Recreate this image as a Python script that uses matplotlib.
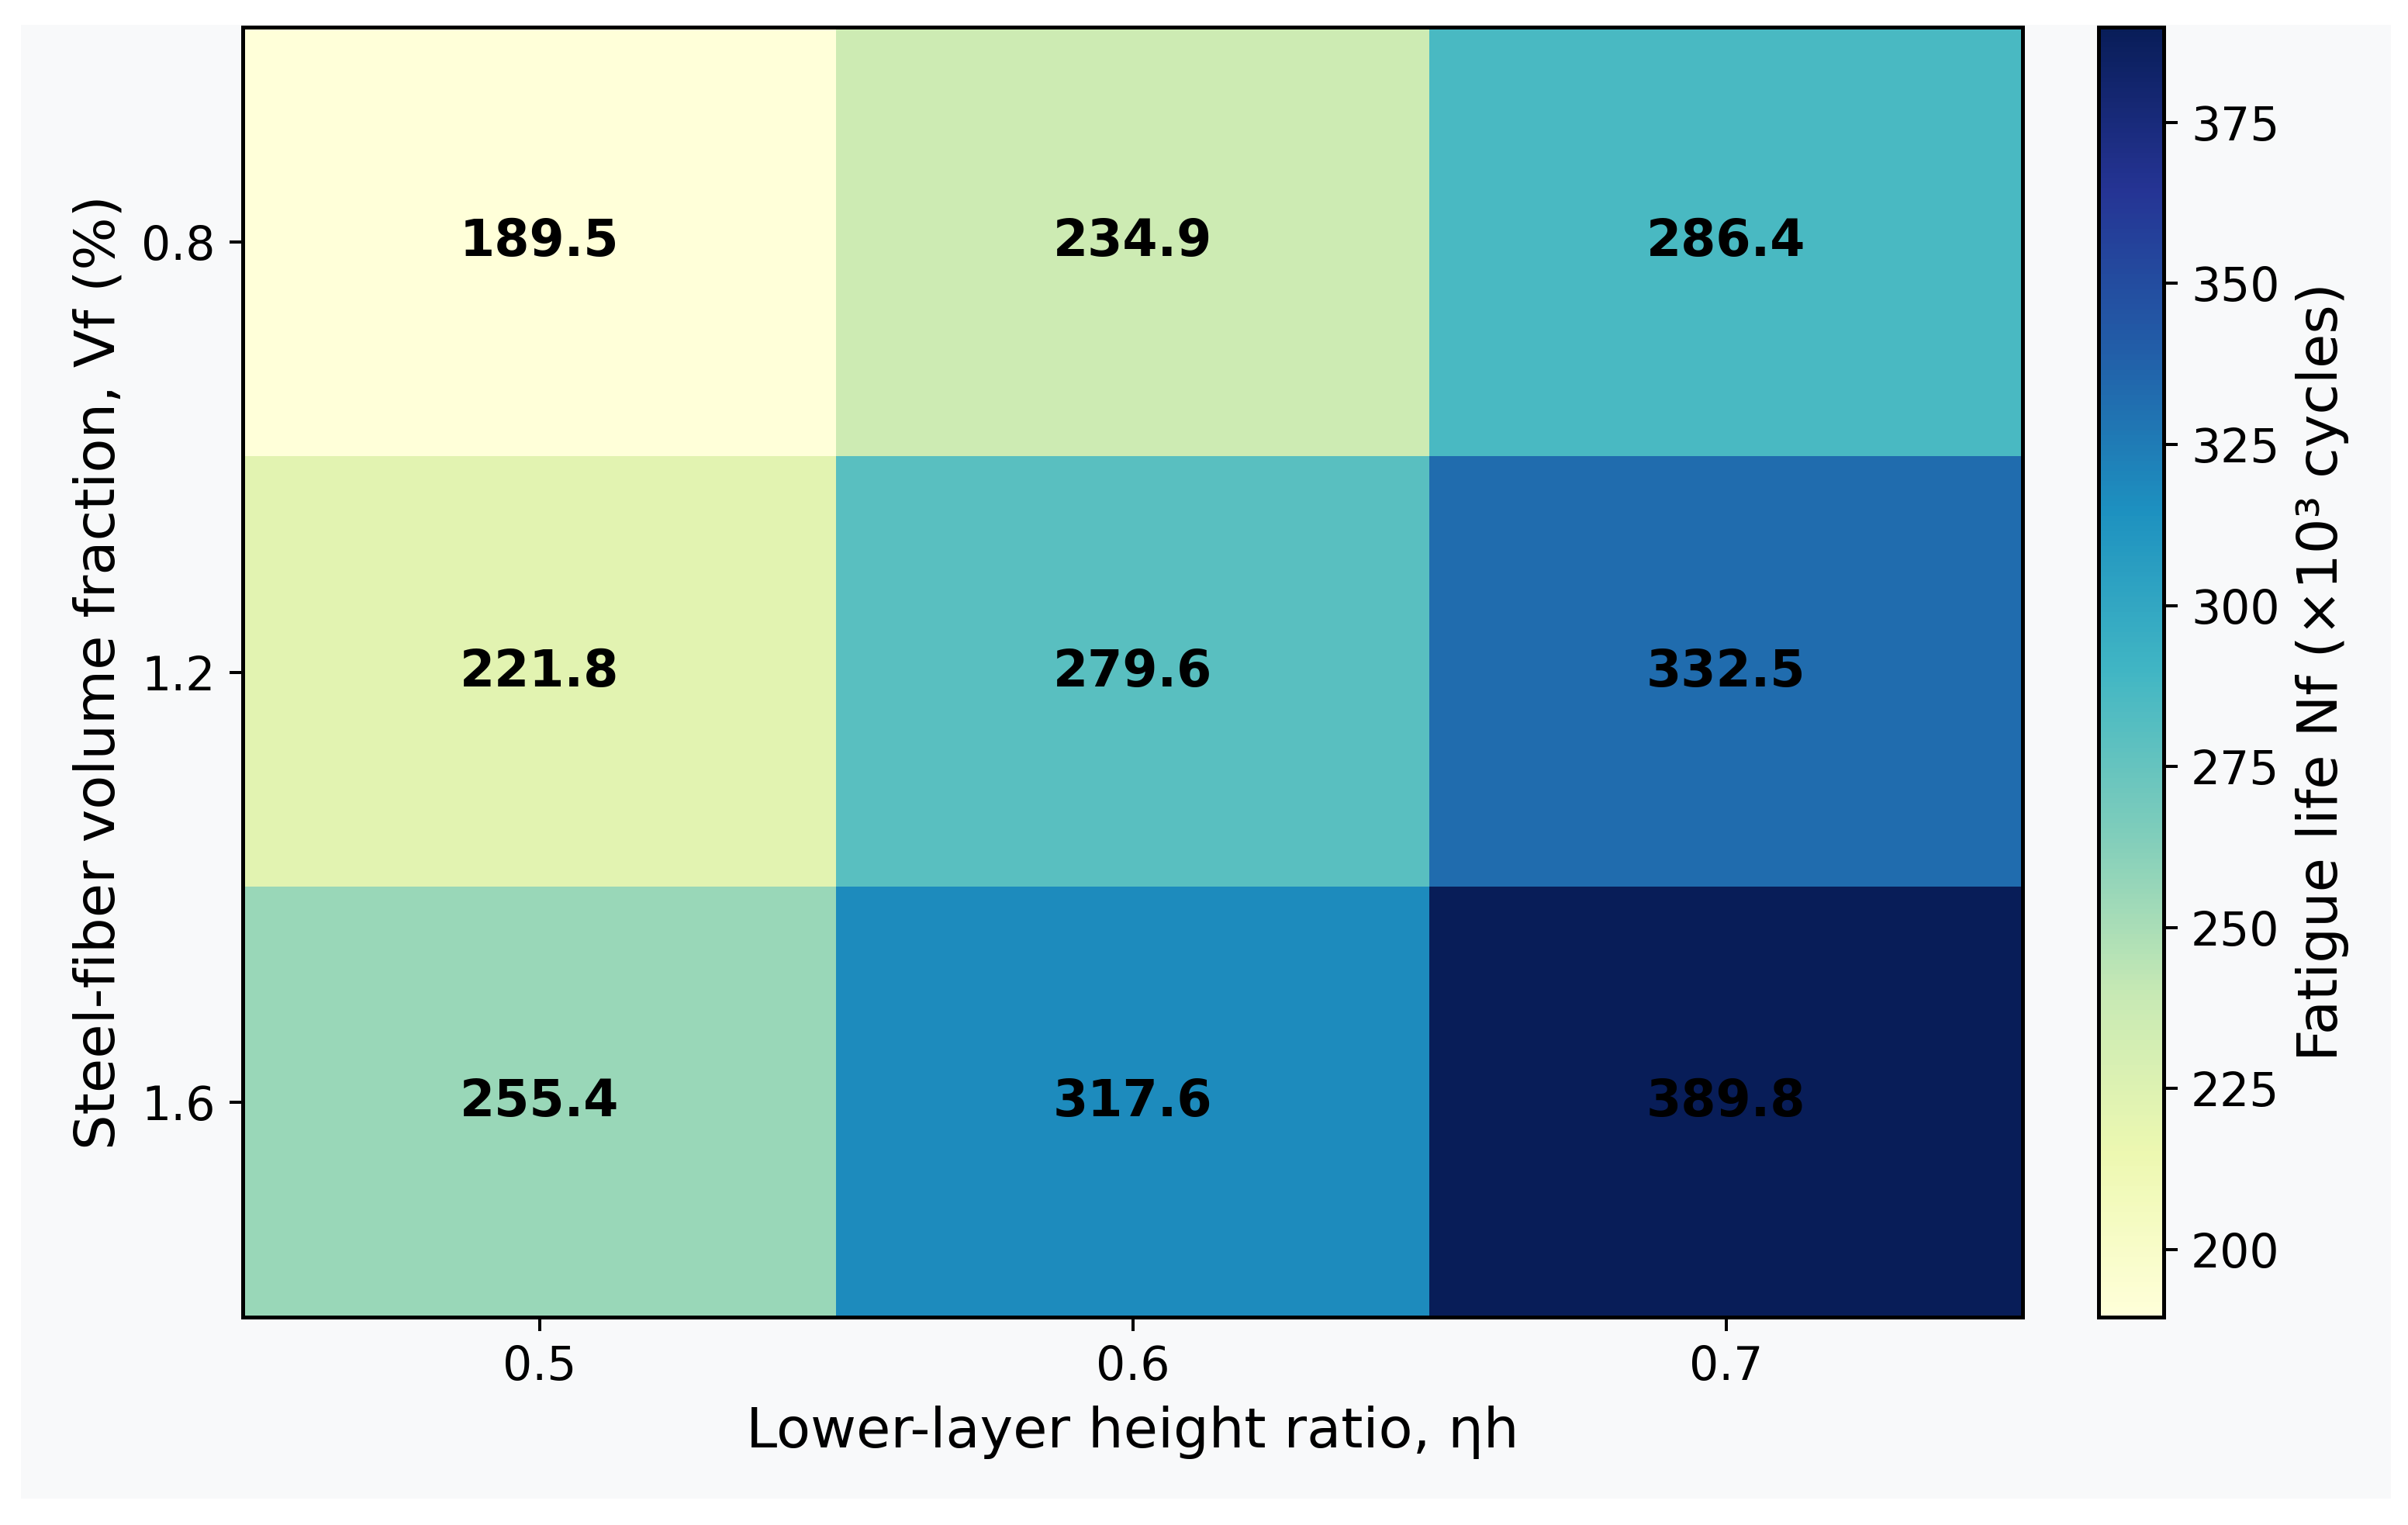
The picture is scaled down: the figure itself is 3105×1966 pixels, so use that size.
import numpy as np
import matplotlib
matplotlib.use("Agg")
import matplotlib.pyplot as plt
from matplotlib.patches import Rectangle

# data
eta_h = ["0.5", "0.6", "0.7"]
vf = ["0.8", "1.2", "1.6"]
row_08 = [189.5, 234.9, 286.4]
row_12 = [221.8, 279.6, 332.5]
row_16 = [255.4, 317.6, 389.8]

nf = np.array([row_08, row_12, row_16])

W, H = 3105, 1966
DPI = 360
fig = plt.figure(figsize=(W / DPI, H / DPI), dpi=DPI, facecolor="white")

# light grey panel inside a white margin
fig.patches.append(Rectangle((27 / W, 1 - 1932 / H), (3083 - 27) / W, (1932 - 32) / H,
                             transform=fig.transFigure, facecolor="#f8f9fa",
                             edgecolor="none", zorder=-10))

ax = fig.add_axes([313 / W, 1 - 1698 / H, (2608 - 313) / W, (1698 - 35) / H])
cax = fig.add_axes([2706 / W, 1 - 1698 / H, (2790 - 2706) / W, (1698 - 35) / H])

im = ax.imshow(nf, cmap="YlGnBu", aspect="auto")

for i in range(nf.shape[0]):
    for j in range(nf.shape[1]):
        ax.text(j, i, f"{nf[i, j]:.1f}", ha="center", va="center",
                fontsize=13, fontweight="bold", color="black")

ax.set_xticks(range(len(eta_h)))
ax.set_xticklabels(eta_h)
ax.set_yticks(range(len(vf)))
ax.set_yticklabels(vf)
ax.tick_params(labelsize=12)
ax.set_xlabel("Lower-layer height ratio, ηh", fontsize=14.4)
ax.set_ylabel("Steel-fiber volume fraction, Vf (%)", fontsize=14.4)
for s in ax.spines.values():
    s.set_linewidth(1.0)

cb = fig.colorbar(im, cax=cax)
cb.set_label("Fatigue life Nf (×10³ cycles)", fontsize=14.4)
cb.ax.tick_params(labelsize=12)
cb.outline.set_linewidth(1.0)

fig.savefig("out.png", dpi=DPI, facecolor=fig.get_facecolor())
